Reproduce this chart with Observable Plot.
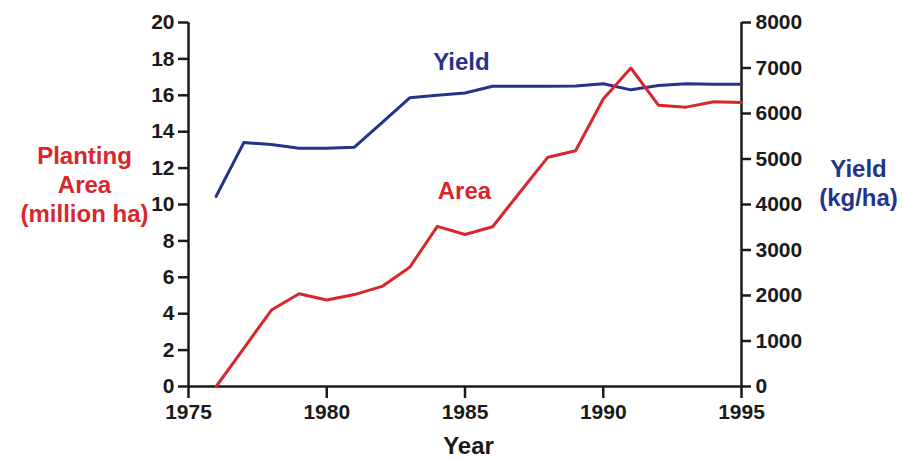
<!DOCTYPE html>
<html>
<head>
<meta charset="utf-8">
<script src="https://cdn.jsdelivr.net/npm/d3@7"></script>
<script src="https://cdn.jsdelivr.net/npm/@observablehq/plot@0.6"></script>
<style>
  html, body { margin: 0; padding: 0; background: #fff; }
</style>
</head>
<body>
<div id="chart"></div>
<script>
const years = [1976, 1977, 1978, 1979, 1980, 1981, 1982, 1983, 1984, 1985, 1986, 1987, 1988, 1989, 1990, 1991, 1992, 1993, 1994, 1995];
const areaMillionHa = [0.0, 2.1, 4.2, 5.1, 4.75, 5.05, 5.5, 6.55, 8.8, 8.35, 8.78, 10.7, 12.6, 12.95, 15.8, 17.5, 15.45, 15.35, 15.65, 15.6];
const yieldKgHa = [4180, 5360, 5320, 5235, 5235, 5260, 5800, 6345, 6400, 6450, 6600, 6600, 6600, 6605, 6655, 6520, 6615, 6655, 6645, 6645];
const leftTicks = [0, 2, 4, 6, 8, 10, 12, 14, 16, 18, 20];
const rightTicks = [0, 1000, 2000, 3000, 4000, 5000, 6000, 7000, 8000];
const xTicks = [1975, 1980, 1985, 1990, 1995];

const RED = "#d8262d";
const BLUE = "#25338a";
const ratio = 400; // 8000 kg/ha on right axis = 20 on left axis

const areaData = years.map((yr, i) => ({year: yr, value: areaMillionHa[i]}));
const yieldData = years.map((yr, i) => ({year: yr, value: yieldKgHa[i]}));

const chart = Plot.plot({
  width: 903,
  height: 460,
  marginLeft: 188,
  marginRight: 162,
  marginTop: 22,
  marginBottom: 74,
  style: {fontFamily: "'Liberation Sans', Arial, sans-serif", fontSize: "21px", fontWeight: "bold", color: "#1a1a1a", background: "#fff"},
  x: {domain: [1975, 1995]},
  y: {domain: [0, 20]},
  marks: [
    Plot.axisX({ticks: xTicks, tickFormat: d => String(d), tickSize: 12, tickPadding: 6, label: null, strokeWidth: 2.5, fontSize: 21}),
    Plot.axisY({anchor: "left", ticks: leftTicks, tickFormat: d => String(d), tickSize: 10, tickPadding: 4, label: null, strokeWidth: 2.5, fontSize: 21}),
    Plot.axisY({anchor: "right", ticks: rightTicks.map(v => v / ratio), tickFormat: d => String(Math.round(d * ratio)), tickSize: 9, tickPadding: 5, label: null, strokeWidth: 2.5, fontSize: 21}),
    Plot.ruleX([1975], {stroke: "#1a1a1a", strokeWidth: 2.5}),
    Plot.ruleX([1995], {stroke: "#1a1a1a", strokeWidth: 2.5}),
    Plot.ruleY([0], {stroke: "#1a1a1a", strokeWidth: 2.5}),
    Plot.line(yieldData, {x: "year", y: d => d.value / ratio, stroke: BLUE, strokeWidth: 3}),
    Plot.line(areaData, {x: "year", y: "value", stroke: RED, strokeWidth: 3}),
    Plot.text(["Yield"], {x: 1984.87, y: 17.79, text: d => d, fill: BLUE, fontSize: 24, fontWeight: "bold"}),
    Plot.text(["Area"], {x: 1984.98, y: 10.75, text: d => d, fill: RED, fontSize: 24, fontWeight: "bold"}),
    Plot.text(["Planting\nArea\n(million ha)"], {frameAnchor: "left", y: 11.14, dx: -104, text: d => d, fill: RED, fontSize: 24, fontWeight: "bold", lineHeight: 1.2, textAnchor: "middle"}),
    Plot.text(["Yield\n(kg/ha)"], {frameAnchor: "right", y: 11.2, dx: 117, text: d => d, fill: BLUE, fontSize: 24, fontWeight: "bold", lineHeight: 1.2, textAnchor: "middle"}),
    Plot.text(["Year"], {frameAnchor: "bottom", dx: 3.5, dy: 67, text: d => d, fill: "#1a1a1a", fontSize: 24, fontWeight: "bold"})
  ]
});
document.getElementById("chart").appendChild(chart);
</script>
</body>
</html>
